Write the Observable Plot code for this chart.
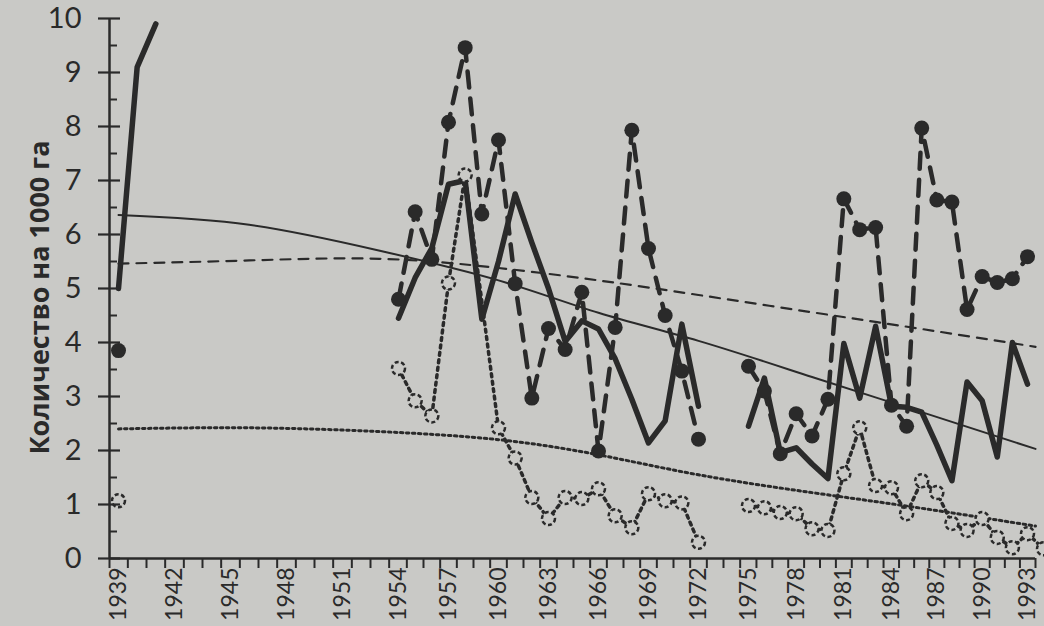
<!DOCTYPE html>
<html>
<head>
<meta charset="utf-8">
<script src="https://cdn.jsdelivr.net/npm/d3@7"></script>
<script src="https://cdn.jsdelivr.net/npm/@observablehq/plot@0.6"></script>
<style>
  html, body { margin: 0; padding: 0; background: #c9c9c6; overflow: hidden; }
  #chart svg { display: block; background: #c9c9c6; }
</style>
</head>
<body>
<div id="chart"></div>
<script>
// ---- categories ----
const yearsEarly = [1939, 1940, 1941];
const yearsMid = [1954, 1955, 1956, 1957, 1958, 1959, 1960, 1961, 1962, 1963,
                  1964, 1965, 1966, 1967, 1968, 1969, 1970, 1971, 1972];
const yearsLate = [1975, 1976, 1977, 1978, 1979, 1980, 1981, 1982, 1983, 1984,
                   1985, 1986, 1987, 1988, 1989, 1990, 1991, 1992, 1993, 1994];
const labelYears = [1939, 1942, 1945, 1948, 1951, 1954, 1957, 1960, 1963, 1966,
                    1969, 1972, 1975, 1978, 1981, 1984, 1987, 1990, 1993];
const yTicks = [0, 1, 2, 3, 4, 5, 6, 7, 8, 9, 10];
const yMinorTicks = [0.5, 1.5, 2.5, 3.5, 4.5, 5.5, 6.5, 7.5, 8.5, 9.5];
const yTitle = "Количество на 1000 га";

// ---- series: thick solid line ----
const solidEarly = [5.0, 9.1, 9.9];
const solidMid = [4.45, 5.2, 5.75, 6.93, 7.0, 4.43, 5.5, 6.75, 5.85, 5.0,
                  4.02, 4.4, 4.25, 3.7, 2.95, 2.14, 2.55, 4.34, 2.82];
const solidLate = [2.45, 3.34, 1.96, 2.05, 1.75, 1.48, 3.98, 2.97, 4.3, 2.82,
                   2.8, 2.71, 2.1, 1.44, 3.27, 2.92, 1.88, 4.0, 3.23, null];

// ---- series: dashed line with filled dots ----
const dashedEarly = [3.85, null, null];
const dashedMid = [4.8, 6.42, 5.54, 8.08, 9.46, 6.38, 7.75, 5.09, 2.97, 4.26,
                   3.87, 4.93, 1.99, 4.28, 7.93, 5.74, 4.5, 3.47, 2.21];
const dashedLate = [3.56, 3.1, 1.94, 2.68, 2.27, 2.95, 6.66, 6.09, 6.13, 2.84,
                    2.45, 7.97, 6.64, 6.6, 4.61, 5.22, 5.11, 5.18, 5.59, null];

// ---- series: dotted line with open circles ----
const dottedEarly = [1.07, null, null];
const dottedMid = [3.52, 2.92, 2.64, 5.1, 7.1, null, 2.42, 1.86, 1.13, 0.74,
                   1.13, 1.11, 1.29, 0.79, 0.57, 1.2, 1.07, 1.03, 0.3];
const dottedLate = [0.98, 0.94, 0.85, 0.83, 0.55, 0.52, 1.57, 2.42, 1.35, 1.31,
                    0.83, 1.44, 1.22, 0.65, 0.52, 0.74, 0.39, 0.2, 0.46, 0.18];

// ---- trend curves ----
const trendYears = [1939, 1946, 1953, 1960, 1966, 1972, 1979, 1986, 1993.5];
const trendSolid = [6.36, 6.18, 5.7, 5.15, 4.55, 4.03, 3.36, 2.71, 2.03];
const trendDashed = [5.46, 5.52, 5.55, 5.38, 5.15, 4.88, 4.56, 4.25, 3.92];
const trendDotted = [2.4, 2.42, 2.35, 2.2, 1.92, 1.55, 1.22, 0.93, 0.6];

// ---- build tables ----
function rows(years, values, block) {
  return years.map((year, i) => ({year, value: values[i], block}))
              .filter(d => d.value != null);
}
const solidRows = [
  ...rows(yearsEarly, solidEarly, "a"),
  ...rows(yearsMid, solidMid, "b"),
  ...rows(yearsLate, solidLate, "c")
];
const dashedRows = [
  ...rows(yearsEarly, dashedEarly, "a"),
  ...rows(yearsMid, dashedMid, "b"),
  ...rows(yearsLate, dashedLate, "c")
];
const dottedRows = [
  ...rows(yearsEarly, dottedEarly, "a"),
  ...rows(yearsMid, dottedMid, "b"),
  ...rows(yearsLate, dottedLate, "c")
];
const trendRows = (vals) => trendYears.map((year, i) => ({year, value: vals[i]}));

const boundaries = d3.range(1938.5, 1994, 1);

const ink = "#2a2a2a";
const paper = "#c9c9c6";

const chart = Plot.plot({
  width: 1044,
  height: 626,
  marginLeft: 109,
  marginRight: 9,
  marginTop: 18,
  marginBottom: 68,
  style: {fontFamily: "Lato, 'Open Sans', sans-serif", color: ink, background: paper},
  x: {type: "linear", domain: [1938.5, 1939, 1954, 1975, 1984, 1993, 1993.5],
      range: [109, 118, 398, 748, 891, 1027, 1035], axis: null},
  y: {domain: [0, 10], range: [558, 18], axis: null},
  marks: [
    // trend curves
    Plot.line(trendRows(trendSolid), {x: "year", y: "value", curve: "natural", stroke: ink, strokeWidth: 2}),
    Plot.line(trendRows(trendDashed), {x: "year", y: "value", curve: "natural", stroke: ink, strokeWidth: 2.2, strokeDasharray: "10,8"}),
    Plot.line(trendRows(trendDotted), {x: "year", y: "value", curve: "natural", stroke: ink, strokeWidth: 3, strokeDasharray: "2.5,3.5"}),
    // thick solid series
    Plot.line(solidRows, {x: "year", y: "value", z: "block", stroke: ink, strokeWidth: 5.5, strokeLinejoin: "round"}),
    // dashed series
    Plot.line(dashedRows, {x: "year", y: "value", z: "block", stroke: ink, strokeWidth: 4.5, strokeDasharray: "16,11"}),
    // dotted series
    Plot.line(dottedRows, {x: "year", y: "value", z: "block", stroke: ink, strokeWidth: 3.5, strokeDasharray: "3,4.5"}),
    Plot.dot(dashedRows, {x: "year", y: "value", r: 7.5, fill: ink, stroke: "none"}),
    Plot.dot(dottedRows, {x: "year", y: "value", r: 6.5, fill: paper, stroke: ink, strokeWidth: 2.5, strokeDasharray: "4,2.5"}),
    // axis lines
    Plot.ruleX([1938.5], {y1: 0, y2: 10, stroke: ink, strokeWidth: 2.5}),
    Plot.ruleY([0], {x1: 1938.5, x2: 1993.5, stroke: ink, strokeWidth: 2.5}),
    // y ticks (crossing) and minor ticks (inside)
    Plot.axisY({ticks: yTicks, tickSize: 22, dx: 11, strokeWidth: 2.2, fill: "none", label: null}),
    Plot.axisY({ticks: yMinorTicks, tickSize: 8, dx: 8, strokeWidth: 2, fill: "none", label: null}),
    Plot.axisY({ticks: yTicks, tickSize: 0, tickPadding: 28, fontSize: 29, tickFormat: d => String(d), label: null}),
    // x ticks between categories and rotated labels
    Plot.axisX({ticks: boundaries, tickSize: 10, strokeWidth: 2, fill: "none", label: null}),
    Plot.axisX({ticks: labelYears, tickSize: 0, tickPadding: 9, tickRotate: -90, fontSize: 23,
                tickFormat: d => String(d), label: null}),
    // y title
    Plot.text([yTitle], {text: d => d, frameAnchor: "left", textAnchor: "middle", rotate: -90, dx: -69, dy: 9,
                         fontSize: 27, fontWeight: "bold", fontFamily: "'Open Sans', Lato, sans-serif", fill: ink})
  ]
});
document.getElementById("chart").append(chart);
</script>
</body>
</html>
